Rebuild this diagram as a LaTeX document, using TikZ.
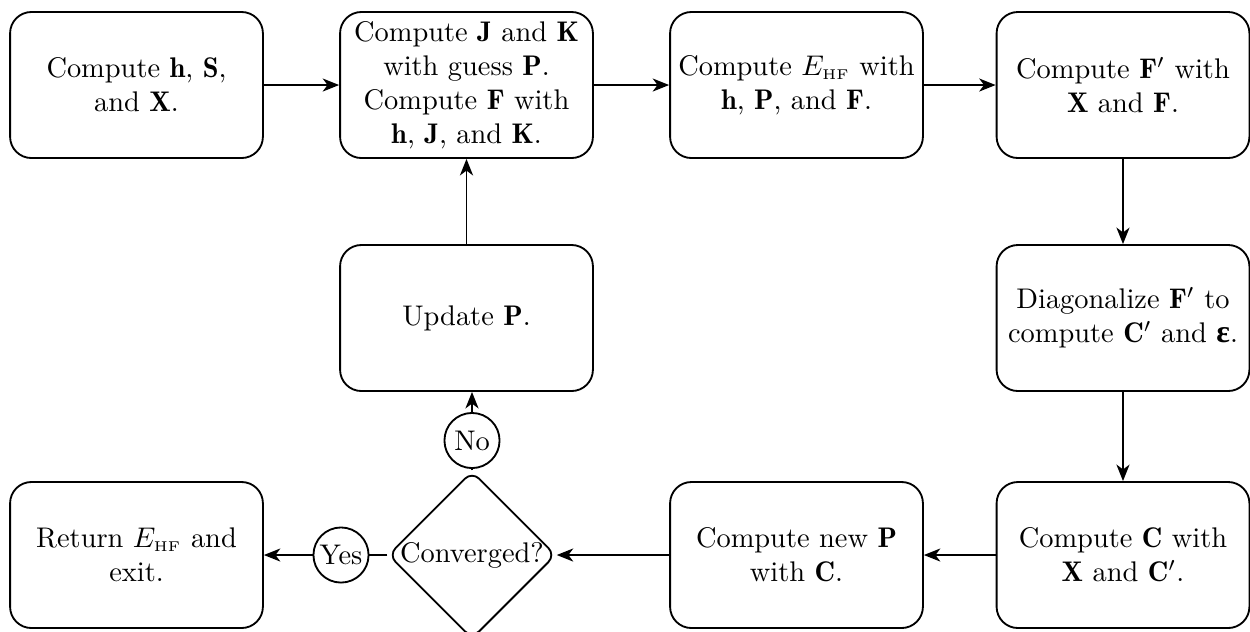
\documentclass[tikz,border=0pt]{standalone}
\usepackage{amsmath}
\usepackage{fontspec}
\newfontfamily\grkfont[Scale=1.12]{Liberation Serif}
\usetikzlibrary{arrows.meta,shapes.geometric}
\begin{document}
\begin{tikzpicture}[x=0.352pt,y=-0.352pt,
  box/.style={draw, rounded corners=7.5pt, minimum width=89pt, minimum height=51.4pt, align=center, inner sep=0pt, line width=0.65pt},
  arr/.style={-{Stealth[length=5.8pt,width=4.6pt,inset=1.7pt]}, line width=0.65pt},
  ln/.style={line width=0.65pt},
  tag/.style={draw, circle, minimum size=19.4pt, inner sep=0pt, line width=0.65pt},
  decision/.style={draw, diamond, minimum width=59pt, minimum height=59pt, inner sep=0pt, rounded corners=3.5pt, line width=0.65pt}]
\clip (0,0) rectangle (1250,631);
% top row
\node[box] (init) at (136.5,85) {Compute $\mathbf{h}$, $\mathbf{S}$,\\ and $\mathbf{X}$.};
\node[box] (jk) at (466.5,85) {Compute $\mathbf{J}$ and $\mathbf{K}$\\ with guess $\mathbf{P}$.\\ Compute $\mathbf{F}$ with\\ $\mathbf{h}$, $\mathbf{J}$, and $\mathbf{K}$.};
\node[box] (ehf) at (796.5,85) {Compute $E_{\scriptscriptstyle\mathrm{HF}}$ with\\ $\mathbf{h}$, $\mathbf{P}$, and $\mathbf{F}$.};
\node[box] (fp) at (1123,85) {Compute $\mathbf{F}'$ with\\ $\mathbf{X}$ and $\mathbf{F}$.};
% middle row
\node[box] (upd) at (466.5,318) {Update $\mathbf{P}$.};
\node[box] (diag) at (1123,318) {Diagonalize $\mathbf{F}'$ to\\ compute $\mathbf{C}'$ and {\grkfont\bfseries ε}.};
% bottom row
\node[box] (ret) at (136.5,555) {Return $E_{\scriptscriptstyle\mathrm{HF}}$ and\\ exit.};
\node[decision, label=center:{Converged?}] (conv) at (472,555) {};
\node[box] (newp) at (796.5,555) {Compute new $\mathbf{P}$\\ with $\mathbf{C}$.};
\node[box] (cc) at (1123,555) {Compute $\mathbf{C}$ with\\ $\mathbf{X}$ and $\mathbf{C}'$.};
% tags
\node[tag] (no) at (472,440.5) {No};
\node[tag] (yes) at (341,555) {Yes};
% connectors
\draw[arr] (init) -- (jk);
\draw[arr] (jk) -- (ehf);
\draw[arr] (ehf) -- (fp);
\draw[arr] (fp) -- (diag);
\draw[arr] (diag) -- (cc);
\draw[arr] (cc) -- (newp);
\draw[arr] (newp) -- (conv);
\draw[ln] (conv) -- (yes);
\draw[arr] (yes) -- (ret);
\draw[ln] (conv) -- (no);
\draw[arr] (no.north) -- (no.north |- upd.south);
\draw[arr] (upd) -- (jk);
\end{tikzpicture}
\end{document}
